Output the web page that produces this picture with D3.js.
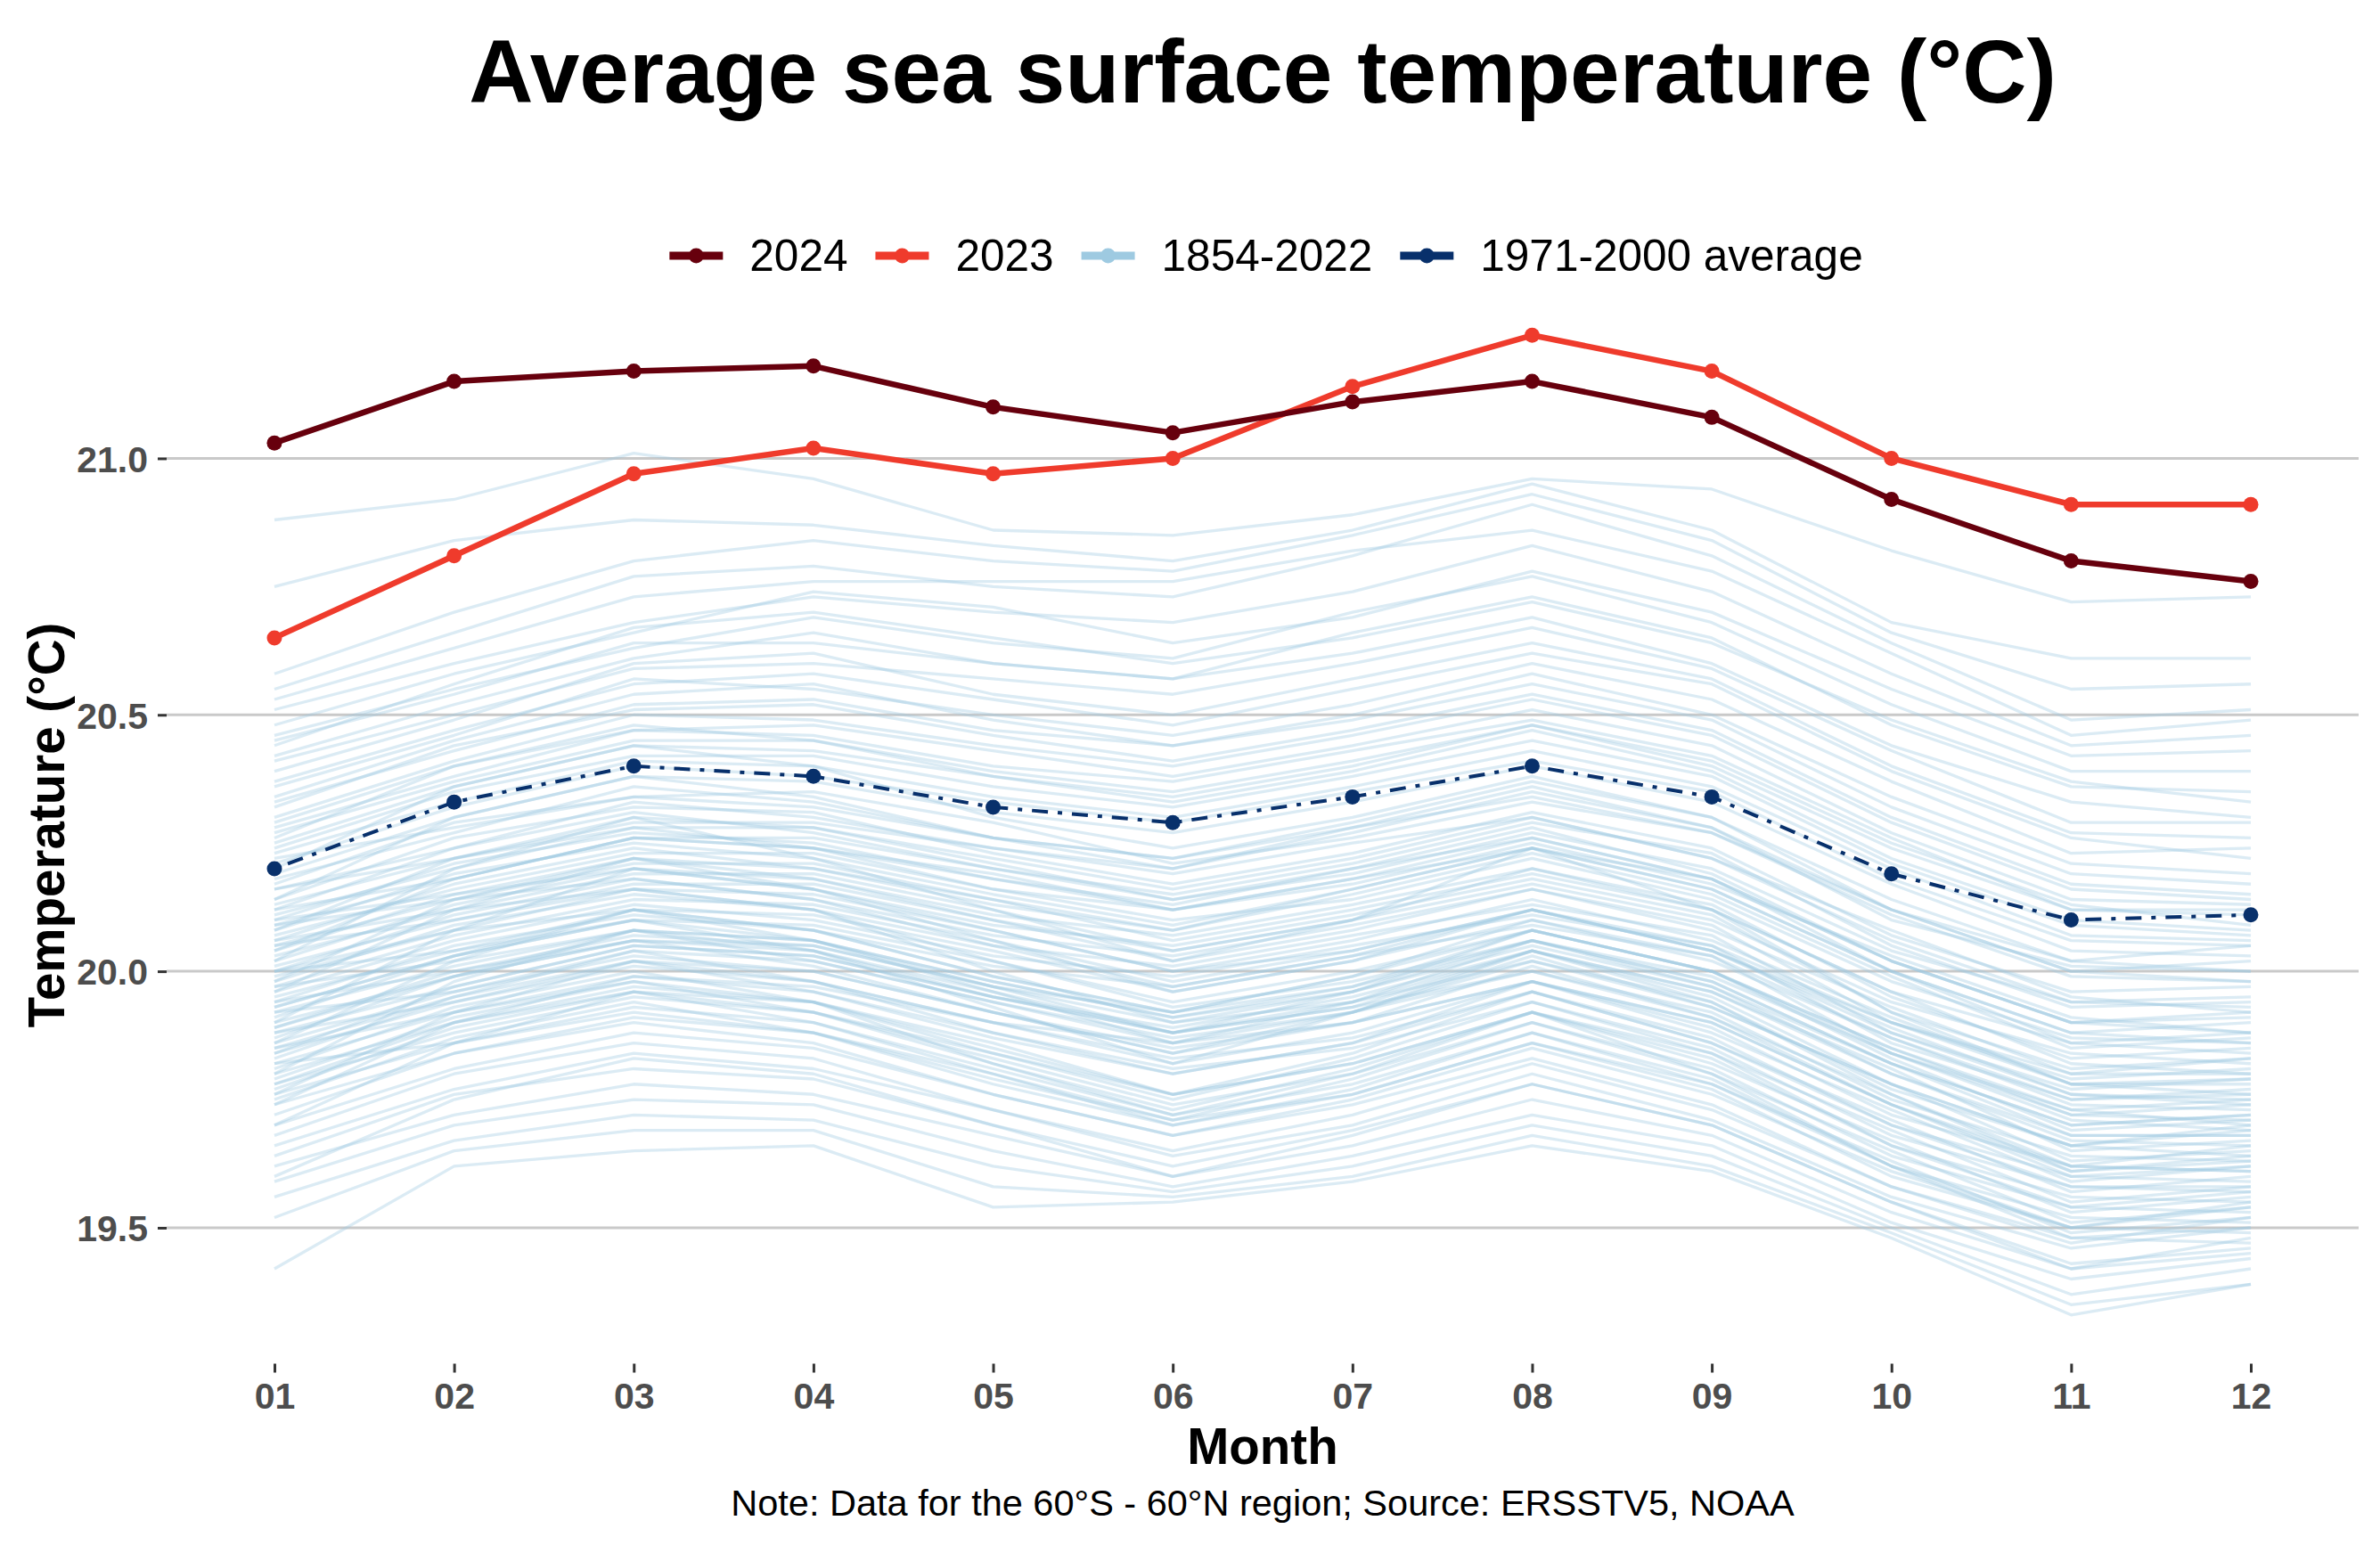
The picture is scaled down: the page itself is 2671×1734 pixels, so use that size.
<!DOCTYPE html>
<html>
<head>
<meta charset="utf-8">
<script src="https://cdn.jsdelivr.net/npm/d3@7"></script>
<style>
  html, body { margin: 0; padding: 0; background: #ffffff; }
  svg { display: block; font-family: "Liberation Sans", Arial, Helvetica, sans-serif; }
</style>
</head>
<body>
<svg id="chart" width="2671" height="1734"></svg>
<script>
// ---------------- DATA ----------------
const months = ["01","02","03","04","05","06","07","08","09","10","11","12"];
const yTicks = [19.5, 20.0, 20.5, 21.0];
const seriesNames = ["2024", "2023", "1854-2022", "1971-2000 average"];
const seriesColors = ["#67000d", "#ef3b2c", "#9ecae1", "#08306b"];

const sst2024 = [21.03, 21.15, 21.17, 21.18, 21.10, 21.05, 21.11, 21.15, 21.08, 20.92, 20.80, 20.76];
const sst2023 = [20.65, 20.81, 20.97, 21.02, 20.97, 21.00, 21.14, 21.24, 21.17, 21.00, 20.91, 20.91];
const avg1971_2000 = [20.20, 20.33, 20.40, 20.38, 20.32, 20.29, 20.34, 20.40, 20.34, 20.19, 20.10, 20.11];

// 1854-2022 yearly curves
const historical = [
  [20.88,20.92,21.01,20.96,20.86,20.85,20.89,20.96,20.94,20.82,20.72,20.73],
  [20.75,20.84,20.88,20.87,20.83,20.80,20.86,20.95,20.86,20.68,20.61,20.61],
  [20.58,20.70,20.80,20.84,20.80,20.78,20.85,20.93,20.84,20.66,20.55,20.56],
  [20.55,20.66,20.77,20.79,20.75,20.73,20.81,20.91,20.81,20.64,20.49,20.51],
  [20.53,20.63,20.73,20.76,20.76,20.76,20.82,20.86,20.78,20.62,20.46,20.49],
  [20.51,20.60,20.68,20.73,20.70,20.68,20.74,20.83,20.74,20.58,20.44,20.46],
  [20.48,20.58,20.66,20.74,20.71,20.64,20.69,20.78,20.70,20.55,20.42,20.43],
  [20.46,20.55,20.63,20.69,20.64,20.61,20.70,20.77,20.68,20.52,20.39,20.39],
  [20.45,20.54,20.64,20.64,20.60,20.57,20.66,20.73,20.65,20.48,20.36,20.35],
  [20.44,20.56,20.67,20.70,20.65,20.60,20.65,20.72,20.64,20.49,20.37,20.33],
  [20.42,20.52,20.61,20.66,20.60,20.57,20.62,20.69,20.60,20.44,20.33,20.30],
  [20.41,20.50,20.59,20.60,20.57,20.54,20.60,20.67,20.59,20.43,20.29,20.29],
  [20.39,20.49,20.60,20.62,20.54,20.50,20.57,20.64,20.57,20.40,20.27,20.26],
  [20.37,20.47,20.56,20.58,20.53,20.48,20.55,20.62,20.56,20.39,20.26,20.22],
  [20.36,20.46,20.57,20.55,20.50,20.46,20.52,20.60,20.53,20.37,20.23,20.24],
  [20.34,20.45,20.54,20.56,20.49,20.44,20.50,20.58,20.50,20.34,20.21,20.19],
  [20.33,20.43,20.52,20.53,20.47,20.44,20.49,20.56,20.49,20.32,20.19,20.17],
  [20.32,20.44,20.51,20.52,20.46,20.41,20.47,20.54,20.47,20.30,20.17,20.15],
  [20.30,20.41,20.50,20.49,20.44,20.40,20.46,20.53,20.46,20.29,20.16,20.14],
  [20.29,20.40,20.47,20.48,20.43,20.38,20.44,20.51,20.44,20.27,20.14,20.13],
  [20.28,20.38,20.47,20.46,20.40,20.37,20.43,20.49,20.42,20.26,20.12,20.11],
  [20.27,20.37,20.45,20.45,20.39,20.35,20.41,20.48,20.41,20.25,20.13,20.09],
  [20.25,20.36,20.44,20.43,20.38,20.33,20.39,20.47,20.39,20.22,20.10,20.08],
  [20.24,20.35,20.42,20.42,20.36,20.32,20.38,20.45,20.38,20.21,20.09,20.07],
  [20.23,20.33,20.41,20.40,20.34,20.30,20.36,20.43,20.36,20.20,20.07,20.06],
  [20.21,20.32,20.40,20.38,20.33,20.29,20.35,20.41,20.35,20.18,20.06,20.05],
  [20.19,20.30,20.38,20.37,20.31,20.27,20.33,20.40,20.33,20.17,20.04,20.03],
  [20.18,20.27,20.36,20.33,20.26,20.22,20.29,20.37,20.30,20.14,20.02,20.05],
  [20.17,20.29,20.34,20.35,20.29,20.21,20.26,20.33,20.27,20.11,19.99,19.98],
  [20.16,20.24,20.33,20.30,20.24,20.20,20.27,20.35,20.28,20.10,20.01,20.00],
  [20.14,20.26,20.32,20.31,20.23,20.17,20.23,20.31,20.24,20.07,19.96,19.97],
  [20.13,20.22,20.29,20.29,20.24,20.19,20.25,20.30,20.22,20.08,19.95,19.92],
  [20.12,20.24,20.31,20.27,20.20,20.15,20.21,20.29,20.23,20.05,19.93,19.94],
  [20.11,20.20,20.28,20.28,20.21,20.14,20.19,20.27,20.20,20.04,19.94,19.95],
  [20.10,20.21,20.27,20.25,20.18,20.13,20.20,20.28,20.19,20.02,19.90,19.91],
  [20.09,20.18,20.26,20.24,20.19,20.12,20.17,20.25,20.17,20.03,19.91,19.88],
  [20.08,20.19,20.25,20.22,20.15,20.09,20.16,20.24,20.18,20.00,19.88,19.90],
  [20.07,20.16,20.23,20.23,20.16,20.10,20.14,20.22,20.14,19.98,19.87,19.86],
  [20.06,20.17,20.24,20.20,20.13,20.08,20.15,20.23,20.15,19.99,19.85,19.87],
  [20.05,20.14,20.21,20.21,20.14,20.06,20.12,20.19,20.12,19.96,19.86,19.84],
  [20.04,20.15,20.22,20.18,20.11,20.07,20.13,20.20,20.13,19.95,19.83,19.85],
  [20.03,20.12,20.19,20.19,20.12,20.04,20.10,20.17,20.10,19.94,19.84,19.82],
  [20.02,20.13,20.20,20.16,20.09,20.05,20.11,20.18,20.11,19.92,19.81,19.83],
  [20.01,20.10,20.17,20.17,20.10,20.02,20.08,20.16,20.08,19.93,19.80,19.80],
  [20.00,20.11,20.18,20.14,20.07,20.03,20.09,20.16,20.09,19.90,19.79,19.81],
  [19.99,20.08,20.16,20.15,20.08,20.00,20.06,20.14,20.06,19.91,19.78,19.78],
  [19.98,20.09,20.15,20.12,20.05,20.01,20.07,20.13,20.07,19.88,19.77,19.79],
  [19.97,20.07,20.14,20.13,20.06,19.98,20.04,20.12,20.04,19.89,19.76,19.75],
  [19.96,20.06,20.13,20.10,20.03,19.99,20.05,20.11,20.05,19.86,19.75,19.77],
  [19.95,20.04,20.12,20.11,20.04,19.96,20.02,20.10,20.02,19.87,19.74,19.73],
  [19.94,20.05,20.11,20.08,20.01,19.97,20.03,20.09,20.03,19.84,19.73,19.75],
  [19.93,20.03,20.10,20.09,20.02,19.94,20.00,20.08,20.00,19.85,19.72,19.71],
  [19.93,20.03,20.12,20.08,19.99,19.92,19.97,20.08,20.00,19.83,19.69,19.71],
  [19.92,20.01,20.08,20.06,19.98,19.91,19.96,20.05,19.97,19.80,19.68,19.68],
  [19.91,20.03,20.10,20.04,19.95,19.88,19.93,20.04,19.96,19.81,19.65,19.67],
  [19.90,19.99,20.06,20.05,19.97,19.90,19.94,20.02,19.94,19.77,19.66,19.69],
  [19.89,19.99,20.08,20.02,19.94,19.87,19.92,20.03,19.93,19.78,19.63,19.65],
  [19.88,19.97,20.05,20.03,19.95,19.88,19.93,20.00,19.92,19.75,19.64,19.63],
  [19.87,19.99,20.06,20.01,19.92,19.84,19.90,20.01,19.91,19.76,19.61,19.64],
  [19.86,19.96,20.03,20.00,19.92,19.85,19.90,19.98,19.89,19.72,19.62,19.61],
  [19.85,19.95,20.04,19.98,19.90,19.82,19.88,19.98,19.88,19.73,19.59,19.62],
  [19.84,19.94,20.01,19.98,19.90,19.83,19.87,19.96,19.87,19.70,19.60,19.59],
  [19.83,19.95,20.02,19.96,19.87,19.80,19.86,19.96,19.86,19.71,19.57,19.60],
  [19.82,19.92,19.99,19.96,19.88,19.81,19.85,19.94,19.85,19.68,19.58,19.57],
  [19.81,19.93,20.00,19.94,19.84,19.75,19.83,19.94,19.84,19.69,19.55,19.58],
  [19.80,19.90,19.97,19.94,19.85,19.76,19.82,19.92,19.83,19.66,19.56,19.55],
  [19.79,19.91,19.98,19.92,19.82,19.73,19.81,19.92,19.82,19.67,19.53,19.56],
  [19.78,19.88,19.95,19.92,19.83,19.74,19.80,19.90,19.81,19.64,19.54,19.53],
  [19.77,19.89,19.96,19.90,19.80,19.71,19.79,19.90,19.80,19.65,19.51,19.54],
  [19.76,19.86,19.93,19.90,19.81,19.72,19.78,19.88,19.79,19.62,19.52,19.51],
  [19.75,19.87,19.94,19.88,19.78,19.70,19.77,19.88,19.78,19.63,19.49,19.52],
  [19.74,19.84,19.91,19.88,19.79,19.71,19.76,19.86,19.77,19.60,19.50,19.49],
  [19.72,19.84,19.90,19.86,19.76,19.68,19.75,19.85,19.76,19.61,19.50,19.55],
  [19.70,19.81,19.88,19.85,19.76,19.68,19.74,19.83,19.74,19.58,19.48,19.47],
  [19.68,19.80,19.86,19.83,19.73,19.65,19.72,19.82,19.73,19.58,19.47,19.52],
  [19.66,19.77,19.84,19.81,19.73,19.64,19.70,19.80,19.71,19.56,19.46,19.50],
  [19.64,19.76,19.81,19.79,19.70,19.62,19.69,19.78,19.70,19.55,19.43,19.46],
  [19.62,19.72,19.78,19.76,19.68,19.60,19.66,19.75,19.68,19.53,19.42,19.48],
  [19.59,19.70,19.75,19.74,19.65,19.58,19.64,19.72,19.66,19.51,19.40,19.44],
  [19.56,19.67,19.72,19.71,19.62,19.57,19.62,19.70,19.64,19.50,19.37,19.42],
  [19.52,19.65,19.69,19.69,19.58,19.56,19.60,19.68,19.62,19.49,19.35,19.39],
  [19.42,19.62,19.65,19.66,19.54,19.55,19.59,19.66,19.61,19.48,19.33,19.39],
  [20.02,20.20,20.30,20.22,20.12,20.02,20.10,20.24,20.12,19.92,19.78,19.76],
  [19.80,19.98,20.08,20.04,19.93,19.82,19.92,20.04,19.94,19.76,19.62,19.66],
  [20.10,20.15,20.20,20.16,20.08,20.00,20.04,20.12,20.04,19.90,19.80,19.83],
  [19.90,20.08,20.20,20.18,20.10,20.04,20.10,20.20,20.12,19.96,19.82,19.80],
  [20.20,20.36,20.44,20.40,20.30,20.24,20.30,20.38,20.30,20.12,20.00,19.98],
  [19.85,19.92,19.98,19.94,19.82,19.72,19.80,19.92,19.80,19.62,19.50,19.54],
  [19.96,20.12,20.22,20.20,20.14,20.08,20.16,20.24,20.16,20.00,19.86,19.88],
  [20.05,20.10,20.16,20.12,20.02,19.93,19.98,20.06,19.97,19.82,19.70,19.72],
  [19.76,19.92,20.02,19.98,19.88,19.80,19.86,19.98,19.90,19.74,19.60,19.62],
  [20.14,20.30,20.38,20.34,20.26,20.20,20.28,20.36,20.28,20.12,20.00,20.02],
  [19.88,19.94,20.02,20.00,19.92,19.84,19.92,20.02,19.93,19.78,19.66,19.64],
  [20.00,20.04,20.10,20.06,19.97,19.88,19.94,20.04,19.95,19.78,19.66,19.70],
  [19.70,19.86,19.96,19.94,19.86,19.76,19.84,19.96,19.86,19.70,19.58,19.58],
  [20.08,20.22,20.30,20.28,20.22,20.16,20.22,20.30,20.22,20.06,19.94,19.93],
  [19.82,19.86,19.92,19.88,19.80,19.70,19.76,19.86,19.78,19.62,19.48,19.50],
  [19.98,20.14,20.22,20.16,20.06,19.96,20.02,20.12,20.04,19.88,19.76,19.74],
  [20.26,20.40,20.48,20.45,20.38,20.34,20.40,20.48,20.40,20.24,20.12,20.12],
  [19.92,19.96,20.04,20.02,19.94,19.86,19.90,19.98,19.90,19.74,19.62,19.61],
  [20.12,20.18,20.26,20.26,20.20,20.14,20.20,20.26,20.18,20.02,19.90,19.88],
  [19.86,20.02,20.12,20.06,19.96,19.86,19.94,20.06,19.98,19.82,19.68,19.68],
  [20.04,20.18,20.26,20.24,20.18,20.12,20.18,20.26,20.18,20.02,19.90,19.92],
  [19.94,20.00,20.06,20.04,19.96,19.88,19.96,20.06,19.98,19.82,19.70,19.72],
  [19.78,19.90,19.96,19.92,19.84,19.76,19.82,19.92,19.84,19.66,19.54,19.57],
  [20.16,20.22,20.28,20.24,20.16,20.12,20.18,20.24,20.16,20.00,19.88,19.86],
  [19.60,19.75,19.83,19.80,19.70,19.60,19.68,19.78,19.70,19.55,19.42,19.45],
  [19.97,20.02,20.08,20.06,19.98,19.91,19.97,20.06,19.99,19.84,19.72,19.74],
  [19.89,20.00,20.07,20.05,19.97,19.92,19.99,20.08,20.00,19.85,19.73,19.70],
  [20.06,20.12,20.16,20.12,20.00,19.90,19.96,20.08,20.00,19.84,19.71,19.69],
  [19.84,19.97,20.05,20.03,19.95,19.89,19.95,20.04,19.96,19.80,19.67,19.66],
  [20.00,20.08,20.12,20.08,19.99,19.92,19.99,20.10,20.03,19.87,19.75,19.76],
  [19.74,19.90,19.99,19.97,19.90,19.86,19.92,20.00,19.91,19.74,19.61,19.63],
  [20.09,20.14,20.18,20.14,20.05,19.97,20.03,20.12,20.05,19.90,19.78,19.79],
  [20.22,20.28,20.34,20.32,20.26,20.22,20.28,20.34,20.27,20.12,20.02,20.00]
];

// ---------------- CHART ----------------
const panel = { left: 187, right: 2647, top: 321, bottom: 1530.5 };
const svg = d3.select("#chart");
const FONT = '"Liberation Sans", Arial, Helvetica, sans-serif';

const x = d3.scalePoint().domain(months).range([panel.left, panel.right]).padding(0.6);
const y = d3.scaleLinear().domain([19.235, 21.336]).range([panel.bottom, panel.top]);

// gridlines
svg.append("g").selectAll("line").data(yTicks).join("line")
  .attr("x1", panel.left).attr("x2", panel.right)
  .attr("y1", d => y(d)).attr("y2", d => y(d))
  .attr("stroke", "#c9c9c9").attr("stroke-width", 3);

// y axis
const yAxis = svg.append("g").attr("transform", `translate(${panel.left},0)`)
  .call(d3.axisLeft(y).tickValues(yTicks).tickFormat(d3.format(".1f")).tickSize(10).tickPadding(11));
yAxis.select(".domain").remove();
yAxis.selectAll(".tick line").attr("stroke", "#333333").attr("stroke-width", 3);
yAxis.selectAll(".tick text").attr("fill", "#4d4d4d").attr("font-size", 41)
  .attr("font-weight", "bold").attr("font-family", FONT).attr("dy", "0.36em");

// x axis
const xAxis = svg.append("g").attr("transform", `translate(0,${panel.bottom})`)
  .call(d3.axisBottom(x).tickSize(10).tickPadding(10));
xAxis.select(".domain").remove();
xAxis.selectAll(".tick line").attr("stroke", "#333333").attr("stroke-width", 3);
xAxis.selectAll(".tick text").attr("fill", "#4d4d4d").attr("font-size", 41)
  .attr("font-weight", "bold").attr("font-family", FONT).attr("dy", "0.74em");

const line = d3.line().x((d, i) => x(months[i])).y(d => y(d));

// historical lines
svg.append("g").selectAll("path").data(historical).join("path")
  .attr("d", line).attr("fill", "none")
  .attr("stroke", seriesColors[2]).attr("stroke-opacity", 0.37)
  .attr("stroke-width", 3.3).attr("stroke-linejoin", "round");

// 1971-2000 average
svg.append("path").datum(avg1971_2000).attr("d", line).attr("fill", "none")
  .attr("stroke", seriesColors[3]).attr("stroke-width", 4)
  .attr("stroke-dasharray", "5,11,18,11");
svg.append("g").selectAll("circle").data(avg1971_2000).join("circle")
  .attr("cx", (d, i) => x(months[i])).attr("cy", d => y(d)).attr("r", 8.5)
  .attr("fill", seriesColors[3]);

// 2023 and 2024
[[sst2023, seriesColors[1]], [sst2024, seriesColors[0]]].forEach(([vals, col]) => {
  svg.append("path").datum(vals).attr("d", line).attr("fill", "none")
    .attr("stroke", col).attr("stroke-width", 6.5).attr("stroke-linejoin", "round");
  svg.append("g").selectAll("circle").data(vals).join("circle")
    .attr("cx", (d, i) => x(months[i])).attr("cy", d => y(d)).attr("r", 8.5)
    .attr("fill", col);
});

// title
const cx = (panel.left + panel.right) / 2;
svg.append("text").attr("x", cx).attr("y", 115).attr("text-anchor", "middle")
  .attr("font-size", 100).attr("font-weight", "bold").attr("fill", "#000")
  .text("Average sea surface temperature (°C)");

// legend
const legend = svg.append("g");
const items = [];
seriesNames.forEach((name, i) => {
  const g = legend.append("g");
  g.append("line").attr("x1", 0).attr("x2", 60).attr("y1", 0).attr("y2", 0)
    .attr("stroke", seriesColors[i]).attr("stroke-width", 9);
  g.append("circle").attr("cx", 30).attr("cy", 0).attr("r", 8.5).attr("fill", seriesColors[i]);
  const t = g.append("text").attr("x", 90).attr("y", 17).attr("font-size", 49.5)
    .attr("fill", "#000").text(name);
  const w = t.node().getComputedTextLength();
  items.push({ g, w: 90 + w });
});
const gap = 31;
const total = d3.sum(items, d => d.w) + gap * (items.length - 1);
let start = cx + 4 - total / 2;
items.forEach(it => { it.g.attr("transform", `translate(${start},287)`); start += it.w + gap; });

// axis titles
svg.append("text").attr("transform", `translate(72,926) rotate(-90)`).attr("text-anchor", "middle")
  .attr("font-size", 56.5).attr("font-weight", "bold").attr("fill", "#000").text("Temperature (°C)");
svg.append("text").attr("x", cx).attr("y", 1643).attr("text-anchor", "middle")
  .attr("font-size", 56.5).attr("font-weight", "bold").attr("fill", "#000").text("Month");

// note
svg.append("text").attr("x", cx).attr("y", 1701).attr("text-anchor", "middle")
  .attr("font-size", 41.5).attr("fill", "#000")
  .text("Note: Data for the 60°S - 60°N region; Source: ERSSTV5, NOAA");
</script>
</body>
</html>
